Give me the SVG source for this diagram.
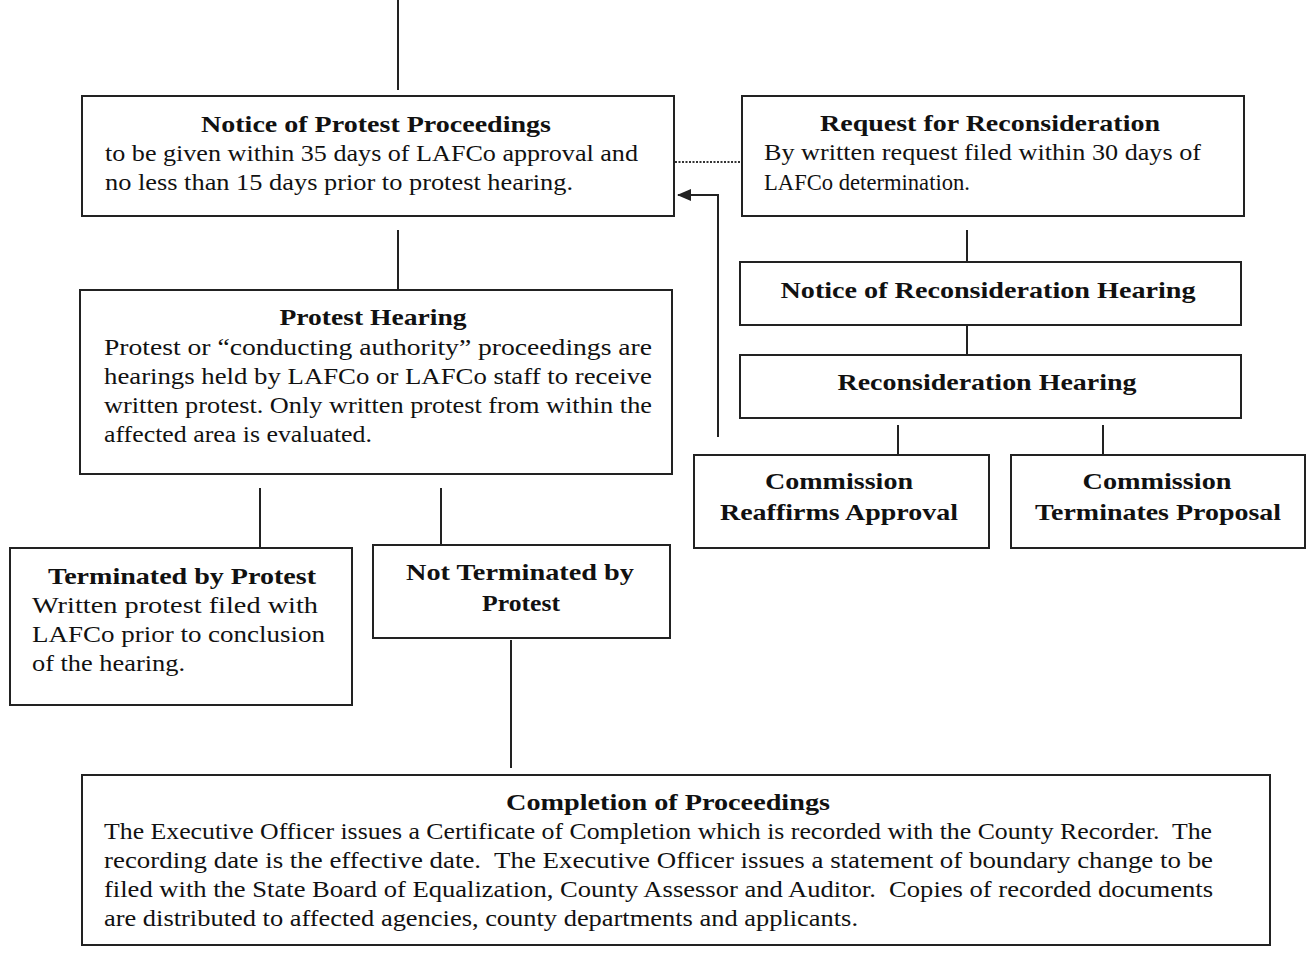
<svg xmlns="http://www.w3.org/2000/svg" width="1307" height="962" viewBox="0 0 1307 962">
<defs>
<style>
.box{fill:#fff;stroke:#222;stroke-width:2}
.ln{stroke:#222;stroke-width:2;fill:none}
.t{font-family:"Liberation Serif",serif;font-size:24px;font-weight:bold;fill:#111;text-anchor:middle}
.b{font-family:"Liberation Serif",serif;font-size:23.5px;fill:#111;white-space:pre}
</style>
<marker id="ah" markerWidth="14" markerHeight="12" refX="13" refY="6" orient="auto" markerUnits="userSpaceOnUse">
<path d="M0,0 L14,6 L0,12 Z" fill="#222"/>
</marker>
</defs>
<rect width="1307" height="962" fill="#fff"/>
<g id="connectors">
<line class="ln" x1="398" y1="0" x2="398" y2="90"/>
<line x1="675" y1="162" x2="742" y2="162" stroke="#333" stroke-width="2" stroke-dasharray="2,1.5"/>
<polyline class="ln" points="718,437 718,195 678,195" marker-end="url(#ah)"/>
<line class="ln" x1="398" y1="230" x2="398" y2="290"/>
<line class="ln" x1="967" y1="230" x2="967" y2="262"/>
<line class="ln" x1="967" y1="325" x2="967" y2="355"/>
<line class="ln" x1="898" y1="425" x2="898" y2="455"/>
<line class="ln" x1="1103" y1="425" x2="1103" y2="455"/>
<line class="ln" x1="260" y1="488" x2="260" y2="548"/>
<line class="ln" x1="441" y1="488" x2="441" y2="545"/>
<line class="ln" x1="511" y1="640" x2="511" y2="768"/>
</g>
<g id="notice-protest">
<rect class="box" x="82" y="96" width="592" height="120"/>
<text class="t" x="376" y="132" textLength="350" lengthAdjust="spacingAndGlyphs">Notice of Protest Proceedings</text>
<text class="b" x="105" y="161" textLength="533" lengthAdjust="spacingAndGlyphs">to be given within 35 days of LAFCo approval and</text>
<text class="b" x="105" y="190" textLength="468" lengthAdjust="spacingAndGlyphs">no less than 15 days prior to protest hearing.</text>
</g>
<g id="request-reconsideration">
<rect class="box" x="742" y="96" width="502" height="120"/>
<text class="t" x="990" y="131" textLength="340" lengthAdjust="spacingAndGlyphs">Request for Reconsideration</text>
<text class="b" x="764" y="160" textLength="437" lengthAdjust="spacingAndGlyphs">By written request filed within 30 days of</text>
<text class="b" x="764" y="190" textLength="206" lengthAdjust="spacingAndGlyphs">LAFCo determination.</text>
</g>
<g id="protest-hearing">
<rect class="box" x="80" y="290" width="592" height="184"/>
<text class="t" x="373" y="325" textLength="187" lengthAdjust="spacingAndGlyphs">Protest Hearing</text>
<text class="b" x="104" y="355" textLength="548" lengthAdjust="spacingAndGlyphs">Protest or “conducting authority” proceedings are</text>
<text class="b" x="104" y="384" textLength="548" lengthAdjust="spacingAndGlyphs">hearings held by LAFCo or LAFCo staff to receive</text>
<text class="b" x="104" y="413" textLength="548" lengthAdjust="spacingAndGlyphs">written protest. Only written protest from within the</text>
<text class="b" x="104" y="442" textLength="268" lengthAdjust="spacingAndGlyphs">affected area is evaluated.</text>
</g>
<g id="notice-reconsideration-hearing">
<rect class="box" x="740" y="262" width="501" height="63"/>
<text class="t" x="988" y="298" textLength="415" lengthAdjust="spacingAndGlyphs">Notice of Reconsideration Hearing</text>
</g>
<g id="reconsideration-hearing">
<rect class="box" x="740" y="355" width="501" height="63"/>
<text class="t" x="987" y="390" textLength="299" lengthAdjust="spacingAndGlyphs">Reconsideration Hearing</text>
</g>
<g id="commission-reaffirms">
<rect class="box" x="694" y="455" width="295" height="93"/>
<text class="t" x="839" y="489" textLength="148" lengthAdjust="spacingAndGlyphs">Commission</text>
<text class="t" x="839" y="520" textLength="238" lengthAdjust="spacingAndGlyphs">Reaffirms Approval</text>
</g>
<g id="commission-terminates">
<rect class="box" x="1011" y="455" width="294" height="93"/>
<text class="t" x="1157" y="489" textLength="149" lengthAdjust="spacingAndGlyphs">Commission</text>
<text class="t" x="1158" y="520" textLength="246" lengthAdjust="spacingAndGlyphs">Terminates Proposal</text>
</g>
<g id="terminated-by-protest">
<rect class="box" x="10" y="548" width="342" height="157"/>
<text class="t" x="182" y="584" textLength="268" lengthAdjust="spacingAndGlyphs">Terminated by Protest</text>
<text class="b" x="32" y="613" textLength="286" lengthAdjust="spacingAndGlyphs">Written protest filed with</text>
<text class="b" x="32" y="642" textLength="293" lengthAdjust="spacingAndGlyphs">LAFCo prior to conclusion</text>
<text class="b" x="32" y="671" textLength="153" lengthAdjust="spacingAndGlyphs">of the hearing.</text>
</g>
<g id="not-terminated">
<rect class="box" x="373" y="545" width="297" height="93"/>
<text class="t" x="520" y="580" textLength="228" lengthAdjust="spacingAndGlyphs">Not Terminated by</text>
<text class="t" x="521" y="611" textLength="78" lengthAdjust="spacingAndGlyphs">Protest</text>
</g>
<g id="completion">
<rect class="box" x="82" y="775" width="1188" height="170"/>
<text class="t" x="668" y="810" textLength="324" lengthAdjust="spacingAndGlyphs">Completion of Proceedings</text>
<text class="b" x="104" y="839" textLength="1108" lengthAdjust="spacingAndGlyphs">The Executive Officer issues a Certificate of Completion which is recorded with the County Recorder.  The</text>
<text class="b" x="104" y="868" textLength="1109" lengthAdjust="spacingAndGlyphs">recording date is the effective date.  The Executive Officer issues a statement of boundary change to be</text>
<text class="b" x="104" y="897" textLength="1109" lengthAdjust="spacingAndGlyphs">filed with the State Board of Equalization, County Assessor and Auditor.  Copies of recorded documents</text>
<text class="b" x="104" y="926" textLength="754" lengthAdjust="spacingAndGlyphs">are distributed to affected agencies, county departments and applicants.</text>
</g>
</svg>
